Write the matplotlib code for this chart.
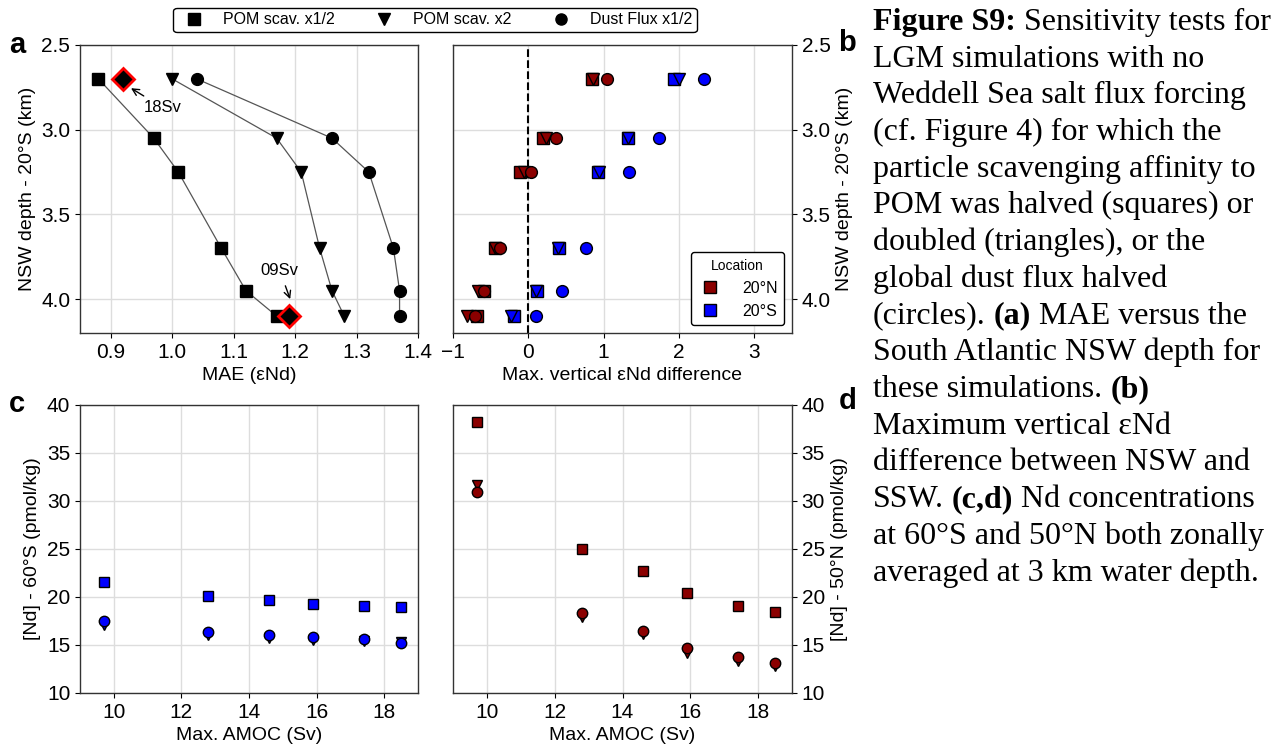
import matplotlib
matplotlib.use("Agg")
import matplotlib.pyplot as plt
from matplotlib.lines import Line2D
import numpy as np

plt.rcParams['font.family'] = ['Liberation Sans', 'DejaVu Sans']

# NSW depth at 20S (km) for each simulation
depth = [2.7, 3.05, 3.25, 3.7, 3.95, 4.1]
amoc = [9.7, 12.8, 14.6, 15.9, 17.4, 18.5]

# panel a: MAE
mae_half = [0.88, 0.97, 1.01, 1.08, 1.12, 1.17]
mae_x2 = [1.00, 1.17, 1.21, 1.24, 1.26, 1.28]
mae_dust = [1.04, 1.26, 1.32, 1.36, 1.37, 1.37]
ref_mae = [0.92, 1.19]
ref_depth = [2.7, 4.1]
ref_labels = ['18Sv', '09Sv']

# panel b: max vertical eNd difference
dn_half = [0.85, 0.20, -0.11, -0.44, -0.59, -0.68]
dn_x2 = [0.86, 0.24, -0.06, -0.44, -0.67, -0.81]
dn_dust = [1.05, 0.37, 0.03, -0.38, -0.59, -0.71]
ds_half = [1.94, 1.32, 0.93, 0.41, 0.11, -0.19]
ds_x2 = [2.00, 1.32, 0.94, 0.39, 0.10, -0.23]
ds_dust = [2.33, 1.73, 1.33, 0.77, 0.45, 0.10]

# panel c: [Nd] 60S
nds_half = [21.6, 20.1, 19.7, 19.3, 19.1, 18.95]
nds_x2 = [17.1, 16.0, 15.7, 15.5, 15.4, 15.3]
nds_dust = [17.5, 16.4, 16.0, 15.8, 15.6, 15.2]

# panel d: [Nd] 50N
ndn_half = [38.2, 25.0, 22.7, 20.4, 19.1, 18.4]
ndn_x2 = [31.7, 17.9, 16.1, 14.2, 13.3, 12.85]
ndn_dust = [30.9, 18.3, 16.5, 14.7, 13.75, 13.1]

RED = '#8b0000'
BLUE = '#0000ff'

fig = plt.figure(figsize=(12.79, 7.47), dpi=100)
W, H = 1279, 747


def place(l, t, r, b):
    return fig.add_axes([l / W, 1 - b / H, (r - l) / W, (b - t) / H])


ax_a = place(80, 45, 418, 333)
ax_b = place(453, 45, 792, 333)
ax_c = place(80, 405, 418, 693)
ax_d = place(453, 405, 792, 693)

for ax in (ax_a, ax_b, ax_c, ax_d):
    ax.grid(True, color='#dddddd', linewidth=1)
    ax.set_axisbelow(True)
    ax.tick_params(labelsize=15)
    for s in ax.spines.values():
        s.set_linewidth(1.0)
        s.set_color('#333333')

# ---- a
ms = 8.5
for vals, m in [(mae_half, 's'), (mae_x2, 'v'), (mae_dust, 'o')]:
    ax_a.plot(vals, depth, color='#555555', lw=0.9, marker=m, ms=ms,
              mfc='black', mec='black', zorder=3)
ax_a.plot(ref_mae, ref_depth, ls='none', marker='D', ms=11, mfc='black',
          mec='red', mew=2, zorder=4)
ax_a.annotate(ref_labels[0], xy=(0.933, 2.755), xytext=(0.985, 2.87),
              ha='center', va='center', fontsize=12,
              arrowprops=dict(arrowstyle='->', color='black', lw=1, shrinkA=2, shrinkB=0))
ax_a.annotate(ref_labels[1], xy=(1.192, 4.0), xytext=(1.175, 3.83),
              ha='center', va='center', fontsize=12,
              arrowprops=dict(arrowstyle='->', color='black', lw=1, shrinkA=4, shrinkB=0))
ax_a.set_xlim(0.85, 1.4)
ax_a.set_ylim(4.2, 2.5)
ax_a.set_xticks(np.arange(0.9, 1.41, 0.1))
ax_a.set_yticks([2.5, 3.0, 3.5, 4.0])
ax_a.set_xlabel('MAE (εNd)', fontsize=14)
ax_a.set_ylabel('NSW depth - 20°S (km)', fontsize=14)

# ---- b
for vn, vs, m in [(dn_half, ds_half, 's'), (dn_x2, ds_x2, 'v'), (dn_dust, ds_dust, 'o')]:
    ax_b.plot(vn, depth, ls='none', marker=m, ms=ms, mfc=RED, mec='black', mew=1, zorder=3)
    ax_b.plot(vs, depth, ls='none', marker=m, ms=ms, mfc=BLUE, mec='black', mew=1, zorder=3)
ax_b.axvline(0, color='black', ls='--', lw=1.5, zorder=2)
ax_b.set_xlim(-1, 3.5)
ax_b.set_ylim(4.2, 2.5)
ax_b.set_xticks([-1, 0, 1, 2, 3])
ax_b.set_yticks([2.5, 3.0, 3.5, 4.0])
ax_b.yaxis.tick_right()
ax_b.yaxis.set_label_position('right')
ax_b.set_xlabel('Max. vertical εNd difference', fontsize=14)
ax_b.set_ylabel('NSW depth - 20°S (km)', fontsize=14)
loc_handles = [Line2D([], [], ls='none', marker='s', ms=8.5, mfc=RED, mec='black', label='20°N'),
               Line2D([], [], ls='none', marker='s', ms=8.5, mfc=BLUE, mec='black', label='20°S')]
lg = ax_b.legend(handles=loc_handles, title='Location', loc='lower right',
                 fontsize=11.5, title_fontsize=10, edgecolor='black', framealpha=1,
                 borderaxespad=0.5, handletextpad=1.2, handlelength=1.6)
lg.get_frame().set_linewidth(1.0)

# ---- c
ms2 = 7.5
for vals, m in [(nds_half, 's'), (nds_x2, 'v'), (nds_dust, 'o')]:
    ax_c.plot(amoc, vals, ls='none', marker=m, ms=ms2, mfc=BLUE, mec='black', mew=1, zorder=3)
ax_c.set_xlim(9, 19)
ax_c.set_ylim(10, 40)
ax_c.set_xticks([10, 12, 14, 16, 18])
ax_c.set_xlabel('Max. AMOC (Sv)', fontsize=14)
ax_c.set_ylabel('[Nd] - 60°S (pmol/kg)', fontsize=14)

# ---- d
for vals, m in [(ndn_half, 's'), (ndn_x2, 'v'), (ndn_dust, 'o')]:
    ax_d.plot(amoc, vals, ls='none', marker=m, ms=ms2, mfc=RED, mec='black', mew=1, zorder=3)
ax_d.set_xlim(9, 19)
ax_d.set_ylim(10, 40)
ax_d.set_xticks([10, 12, 14, 16, 18])
ax_d.yaxis.tick_right()
ax_d.yaxis.set_label_position('right')
ax_d.set_xlabel('Max. AMOC (Sv)', fontsize=14)
ax_d.set_ylabel('[Nd] - 50°N (pmol/kg)', fontsize=14)

# top legend
top_handles = [Line2D([], [], ls='none', marker='s', ms=8, color='black', label='POM scav. x1/2'),
               Line2D([], [], ls='none', marker='v', ms=8, color='black', label='POM scav. x2'),
               Line2D([], [], ls='none', marker='o', ms=8, color='black', label='Dust Flux x1/2')]
tl = fig.legend(handles=top_handles, ncol=3, loc='center', bbox_to_anchor=(435 / W, 1 - 20 / H),
                fontsize=11.5, edgecolor='black', framealpha=1, columnspacing=2.1,
                handletextpad=0.8, borderpad=0.3)
tl.get_frame().set_linewidth(1.0)

# panel letters
for lab, x, y in [('a', 17, 45), ('b', 847, 43), ('c', 17, 404), ('d', 848, 401)]:
    fig.text(x / W, 1 - y / H, lab, fontsize=21, fontweight='bold', ha='center', va='center')

# caption
caption = [
    [('Figure S9:', True), ('Sensitivity tests for', False)],
    [('LGM simulations with no', False)],
    [('Weddell Sea salt flux forcing', False)],
    [('(cf. Figure 4) for which the', False)],
    [('particle scavenging affinity to', False)],
    [('POM was halved (squares) or', False)],
    [('doubled (triangles), or the', False)],
    [('global dust flux halved', False)],
    [('(circles).', False), ('(a)', True), ('MAE versus the', False)],
    [('South Atlantic NSW depth for', False)],
    [('these simulations.', False), ('(b)', True)],
    [('Maximum vertical εNd', False)],
    [('difference between NSW and', False)],
    [('SSW.', False), ('(c,d)', True), ('Nd concentrations', False)],
    [('at 60°S and 50°N both zonally', False)],
    [('averaged at 3 km water depth.', False)],
]
cap_font = dict(family='Liberation Serif', fontsize=23)
r = fig.canvas.get_renderer()
t1 = fig.text(0, 0, 'a a', **cap_font)
t2 = fig.text(0, 0, 'aa', **cap_font)
space = (t1.get_window_extent(r).width - t2.get_window_extent(r).width) / W
t1.remove()
t2.remove()
for i, line in enumerate(caption):
    x = 873 / W
    y = 1 - (30 + i * 36.7) / H
    for seg, bold in line:
        t = fig.text(x, y, seg, va='baseline', ha='left',
                     fontweight='bold' if bold else 'normal', **cap_font)
        x += t.get_window_extent(r).width / W + space

fig.savefig('out.png', dpi=100)
